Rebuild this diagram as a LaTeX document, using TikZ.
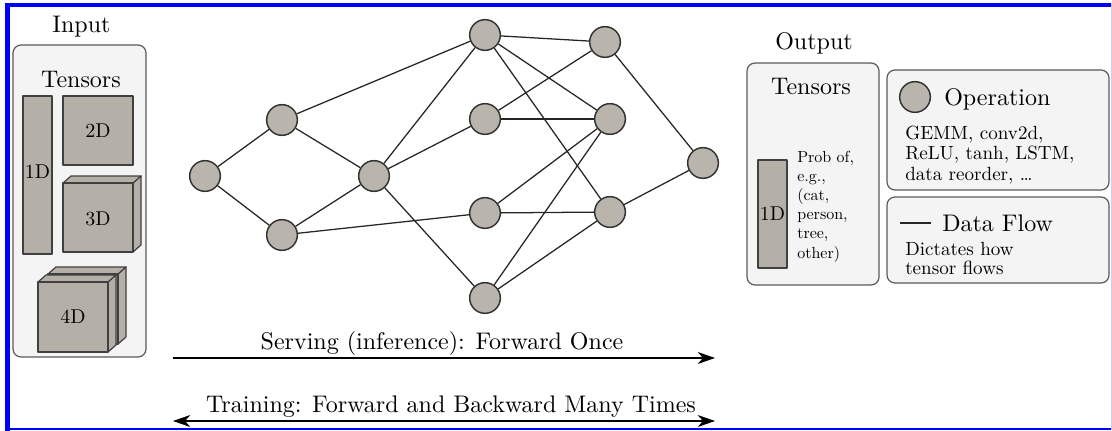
\documentclass[tikz,border=0pt]{standalone}
\usepackage{fontspec}
\setmainfont{lmroman10-regular.otf}
\usetikzlibrary{arrows.meta}
\definecolor{opfill}{HTML}{B9B5AC}
\definecolor{tfill}{HTML}{B4B0A8}
\definecolor{panelfill}{HTML}{F4F4F4}
\definecolor{panelline}{HTML}{5A5A5A}
\definecolor{frameblue}{HTML}{0000FF}
\tikzset{ptip/.tip={Stealth[length=13pt,width=9pt,inset=4pt]}}
\newcommand{\tensorcube}[4]{% x, y of the front face's top-left corner, width, height
  \draw[tensor] (#1+#3,#2) -- ++(8,-7) -- ++(0,#4) -- ++(-8,7) -- cycle;
  \draw[tensor] (#1,#2) -- ++(8,-7) -- ++(#3,0) -- ++(-8,7) -- cycle;
  \draw[tensor] (#1,#2) rectangle ++(#3,#4);
}
\begin{document}
\begin{tikzpicture}[x=0.75pt,y=-0.75pt,
  op/.style={circle,draw=black!80,fill=opfill,line width=1.1pt,minimum size=23pt,inner sep=0pt},
  flow/.style={draw=black!85,line width=0.95pt},
  panel/.style={draw=panelline,fill=panelfill,line width=0.9pt,rounded corners=6pt},
  tensor/.style={draw=black!75,fill=tfill,line width=0.9pt,line join=round},
  big/.style={font=\fontsize{18}{20}\selectfont,inner sep=0pt},
  dimlabel/.style={font=\fontsize{15}{17}\selectfont,inner sep=0pt},
  legendtext/.style={font=\fontsize{14.3}{16}\selectfont,inner sep=0pt,anchor=base west},
  probtext/.style={font=\fontsize{12}{13}\selectfont,inner sep=0pt,anchor=base west},
  phase/.style={draw=black,line width=1.1pt}]
\useasboundingbox (0,0) rectangle (1112,431);

% frame
\fill[frameblue] (5,3) rectangle (10,431);
\fill[frameblue] (5,3) rectangle (1112,7);
\fill[frameblue] (5,428) rectangle (1112,430);
\fill[frameblue!20] (1110.5,3) rectangle (1112,430);

% ---------- input tensors ----------
\node[big,anchor=base] (inputlbl) at (81.5,33) {Input};
\draw[panel] (13,45) rectangle (146,357);
\node[big,anchor=base] (intensors) at (81,88) {Tensors};
\draw[tensor] (23,96) rectangle (52,254);
\node[dimlabel] (in1d) at (37.5,172) {1D};
\draw[tensor] (63,96) rectangle (133,165);
\node[dimlabel] (in2d) at (98,131) {2D};
\tensorcube{63}{183}{70}{69}
\node[dimlabel] (in3d) at (98,219) {3D};
\tensorcube{48}{274}{70}{70}
\tensorcube{38}{282}{70}{70}
\node[dimlabel] (in4d) at (73,317) {4D};

% ---------- network ----------
\node[op] (a1) at (205,176) {};
\node[op] (b1) at (282,120) {};
\node[op] (b2) at (282,235) {};
\node[op] (c1) at (374,176) {};
\node[op] (d1) at (485,35) {};
\node[op] (d2) at (485,119) {};
\node[op] (d3) at (485,213) {};
\node[op] (d4) at (485,298) {};
\node[op] (e1) at (605,42) {};
\node[op] (e2) at (610,119) {};
\node[op] (e3) at (610,212) {};
\node[op] (f1) at (703,163) {};
\foreach \u/\v in {a1/b1,a1/b2,b1/c1,b2/c1,b1/d1,b2/d3,c1/d1,c1/d2,c1/d4,
                   d1/e1,d1/e2,d1/e3,d2/e1,d2/e2,d3/e2,d3/e3,d4/e2,d4/e3,
                   e1/f1,e3/f1}
  \draw[flow] (\u) -- (\v);

% ---------- output tensors ----------
\node[big,anchor=base] (outputlbl) at (814,50) {Output};
\draw[panel] (747,63) rectangle (879,285);
\node[big,anchor=base] (outtensors) at (811,95) {Tensors};
\draw[tensor] (758,160) rectangle (787,268);
\node[dimlabel] (out1d) at (772.5,214) {1D};
\foreach \t [count=\i] in {{Prob of,},{e.g.,},{(cat,},{person,},{tree,},{other)}}
  \node[probtext] (prob\i) at (797,{162+19.2*(\i-1)}) {\t};

% ---------- legend ----------
\draw[panel] (887,70) rectangle (1109,190);
\node[op] (legop) at (915,97) {};
\node[big,anchor=base west] (optitle) at (944,106) {Operation};
\node[legendtext] (ops1) at (905,140) {GEMM, conv2d,};
\node[legendtext] (ops2) at (905,160) {ReLU, tanh, LSTM,};
\node[legendtext] (ops3) at (905,180) {data reorder, \ldots};

\draw[panel] (887,197) rectangle (1109,283);
\coordinate (dfa) at (900,223);
\coordinate (dfb) at (931,223);
\draw[flow,line width=1.1pt] (dfa) -- (dfb);
\node[big,anchor=base west] (dftitle) at (942,231) {Data Flow};
\node[legendtext] (df1) at (905,255) {Dictates how};
\node[legendtext] (df2) at (905,274) {tensor flows};

% ---------- phases ----------
\node[big,anchor=base] (servelbl) at (442,349) {Serving (inference): Forward Once};
\coordinate (s0) at (173,358);
\coordinate (s1) at (715,358);
\draw[phase,-ptip] (s0) -- (s1);
\node[big,anchor=base] (trainlbl) at (451,412) {Training: Forward and Backward Many Times};
\coordinate (t0) at (173,421);
\coordinate (t1) at (715,421);
\draw[phase,ptip-ptip] (t0) -- (t1);
\end{tikzpicture}
\end{document}
